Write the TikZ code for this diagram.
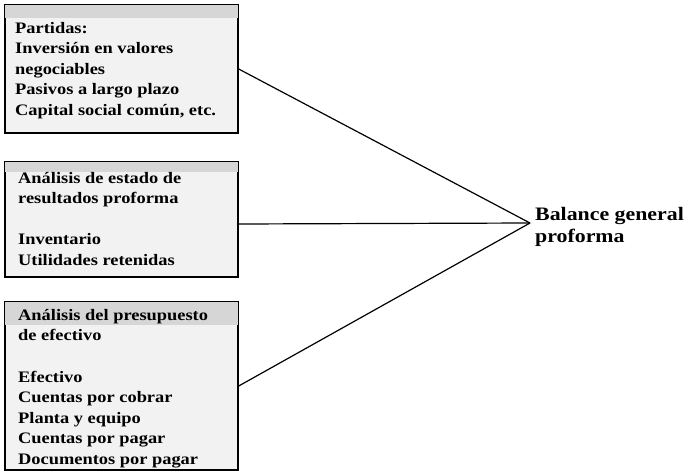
\documentclass[tikz,border=0pt]{standalone}
\usepackage{fontspec}
\setmainfont{Liberation Serif}[FakeStretch=1.15]
\newcommand{\stk}[1]{\begin{tabular}[t]{@{}l@{}}#1\end{tabular}}
\begin{document}
\begin{tikzpicture}[x=1pt,y=-1pt,
  box/.style={draw=black, line width=1.4pt, fill=black!5, minimum width=233pt, inner sep=0pt},
  band/.style={fill=black!16, draw=none},
  txt/.style={anchor=base west, inner sep=0pt, font=\bfseries\fontsize{16}{20.5}\selectfont},
  conn/.style={draw=black, line width=1.2pt},
  big/.style={anchor=base west, inner sep=0pt, font=\bfseries\fontsize{19}{22}\selectfont}]
\useasboundingbox (0,0) rectangle (688,471);
% boxes
\node[box, minimum height=128pt] (b1) at (121.5,69) {};
\node[box, minimum height=115pt] (b2) at (121.5,219.5) {};
\node[box, minimum height=168pt] (b3) at (121.5,386) {};
\fill[band] ([xshift=0.7pt,yshift=-0.7pt]b1.north west) rectangle ([xshift=-0.7pt]b1.north east |- 0,18);
\fill[band] ([xshift=0.7pt,yshift=-0.7pt]b2.north west) rectangle ([xshift=-0.7pt]b2.north east |- 0,172);
\fill[band] ([xshift=0.7pt,yshift=-0.7pt]b3.north west) rectangle ([xshift=-0.7pt]b3.north east |- 0,325);
\draw[line width=1.4pt] (b1.north west) rectangle (b1.south east);
\draw[line width=1.4pt] (b2.north west) rectangle (b2.south east);
\draw[line width=1.4pt] (b3.north west) rectangle (b3.south east);
% texts
\node[txt] (t1) at (15,33) {\stk{Partidas:\\Inversión en valores\\negociables\\Pasivos a largo plazo\\Capital social común, etc.}};
\node[txt] (t2) at (18,183) {\stk{Análisis de estado de\\resultados proforma\\[20.5pt]Inventario\\Utilidades retenidas}};
\node[txt] (t3) at (18,320) {\stk{Análisis del presupuesto\\de efectivo\\[21pt]Efectivo\\Cuentas por cobrar\\Planta y equipo\\Cuentas por pagar\\Documentos por pagar}};
% convergence
\coordinate (m) at (530,223);
\node[big] (bg) at (535,220) {\stk{Balance general\\proforma}};
\draw[conn] (b1.east) -- (m);
\draw[conn] (b2.east |- 0,224) -- (m);
\draw[conn] (b3.east) -- (m);
\end{tikzpicture}
\end{document}
